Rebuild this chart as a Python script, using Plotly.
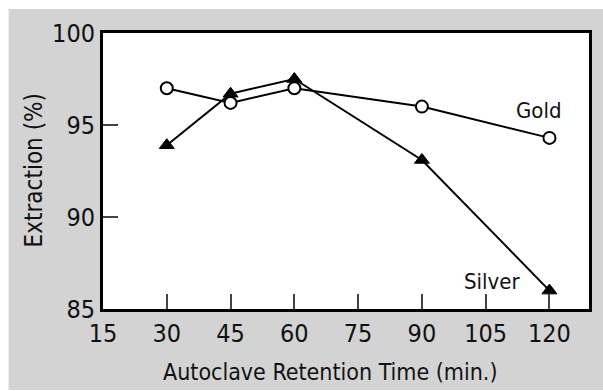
import plotly.graph_objects as go

time_min = [30, 45, 60, 90, 120]
gold = [97.0, 96.2, 97.0, 96.0, 94.3]
silver = [93.9, 96.7, 97.5, 93.1, 86.0]
x_ticks = [15, 30, 45, 60, 75, 90, 105, 120]
y_ticks = [85, 90, 95, 100]

FONT = "DejaVu Sans Condensed, sans-serif"

W, H = 603, 391
L, R, T, B = 103, 11, 33, 82
pw, ph = W - L - R, H - T - B

def px(x):
    return (x - L) / pw

def py(y):
    return (H - B - y) / ph

fig = go.Figure()
fig.add_trace(go.Scatter(
    x=time_min, y=gold, mode="lines+markers", name="Gold",
    line=dict(color="black", width=2),
    marker=dict(symbol="circle", size=12, color="white",
                line=dict(color="black", width=2)),
))
fig.add_trace(go.Scatter(
    x=time_min, y=silver, mode="lines+markers", name="Silver",
    line=dict(color="black", width=2),
    marker=dict(symbol="triangle-up", size=13, color="black",
                line=dict(color="black", width=1)),
))

fig.add_shape(type="rect", xref="paper", yref="paper",
              x0=px(8), x1=px(W + 5), y0=py(H - 1), y1=py(9),
              fillcolor="#d3d3d3", line=dict(width=0), layer="below")
fig.add_shape(type="rect", xref="paper", yref="paper",
              x0=0, x1=1, y0=0, y1=1,
              fillcolor="white", line=dict(width=0), layer="below")

fig.add_annotation(x=117.6, y=95.8, xref="x", yref="y", text="Gold",
                   showarrow=False, font=dict(family=FONT, size=22, color="#111"),
                   xanchor="center", yanchor="middle")
fig.add_annotation(x=106.6, y=86.5, xref="x", yref="y", text="Silver",
                   showarrow=False, font=dict(family=FONT, size=22, color="#111"),
                   xanchor="center", yanchor="middle")

fig.add_annotation(x=px(332), y=py(372), xref="paper", yref="paper",
                   text="Autoclave Retention Time (min.)", showarrow=False,
                   font=dict(family=FONT, size=23, color="#111"),
                   xanchor="center", yanchor="middle")
fig.add_annotation(x=px(34), y=py(170), xref="paper", yref="paper",
                   text="Extraction (%)", showarrow=False, textangle=-90,
                   font=dict(family=FONT, size=24, color="#111"),
                   xanchor="center", yanchor="middle")

fig.update_xaxes(range=[15, 129.3], tickvals=x_ticks, ticks="inside", ticklen=15,
                 tickwidth=2, tickcolor="#444", showgrid=False, zeroline=False,
                 showline=True, linecolor="black", linewidth=3, mirror=True,
                 tickfont=dict(family=FONT, size=25, color="#111"))
fig.update_yaxes(range=[85, 100], tickvals=y_ticks, ticks="inside", ticklen=15,
                 tickwidth=2, tickcolor="#444", showgrid=False, zeroline=False,
                 showline=True, linecolor="black", linewidth=3, mirror=True,
                 tickfont=dict(family=FONT, size=25, color="#111"))

fig.update_layout(
    width=W, height=H, showlegend=False,
    margin=dict(l=L, r=R, t=T, b=B),
    paper_bgcolor="white", plot_bgcolor="white",
)
fig.write_html("out.html")
